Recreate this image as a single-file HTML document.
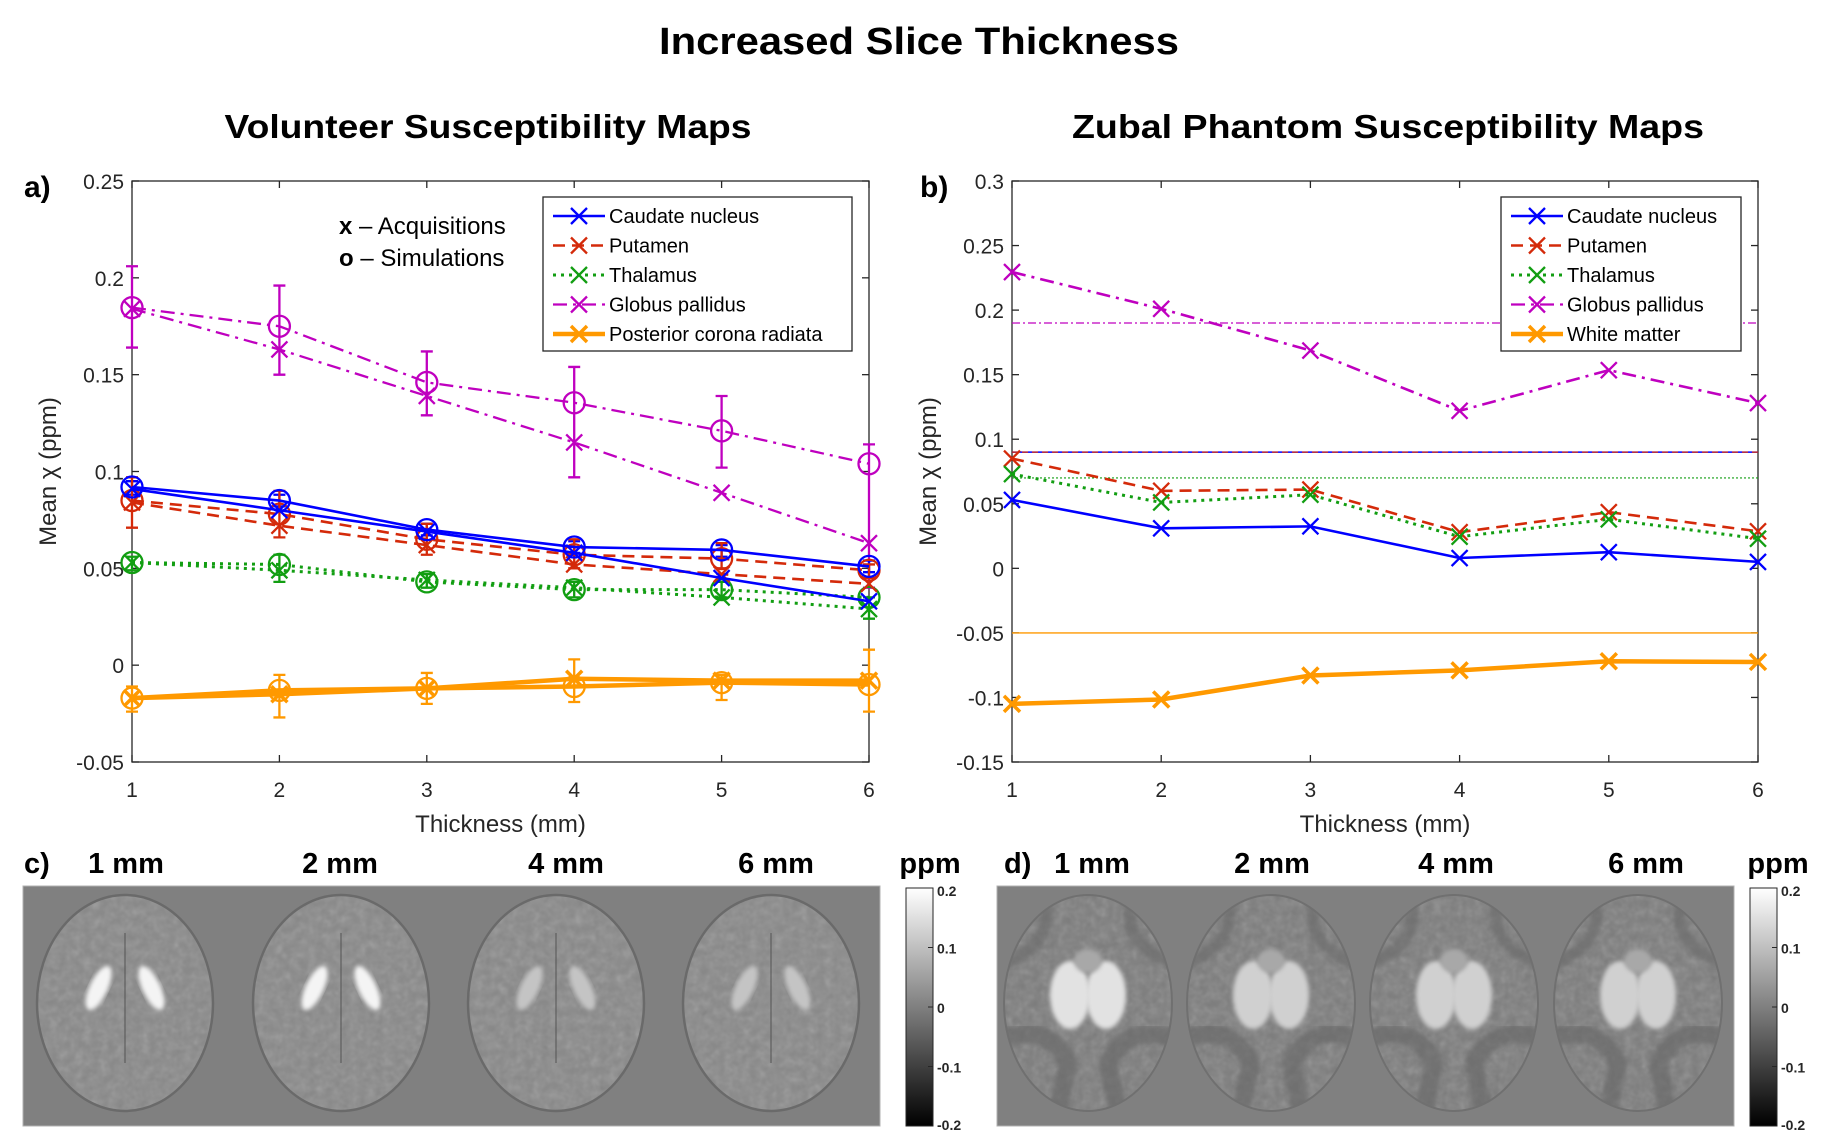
<!DOCTYPE html>
<html><head><meta charset="utf-8"><style>
html,body{margin:0;padding:0;background:#fff;}
svg{display:block;font-family:"Liberation Sans",Arial,sans-serif;}
</style></head><body>
<svg id="fig" width="1826" height="1148" viewBox="0 0 1826 1148" xmlns="http://www.w3.org/2000/svg">
<defs>
<linearGradient id="cbar" x1="0" y1="0" x2="0" y2="1"><stop offset="0" stop-color="#fff"/><stop offset="1" stop-color="#000"/></linearGradient>
<filter id="blur2"><feGaussianBlur stdDeviation="2"/></filter>
<filter id="blur4"><feGaussianBlur stdDeviation="4"/></filter>
<filter id="noise" x="0" y="0" width="100%" height="100%"><feTurbulence type="fractalNoise" baseFrequency="0.12" numOctaves="2" seed="3"/><feColorMatrix type="saturate" values="0"/><feComponentTransfer><feFuncA type="table" tableValues="0 0.3"/></feComponentTransfer></filter>
</defs>
<text x="919" y="54" font-size="38" font-weight="bold" text-anchor="middle" textLength="520" lengthAdjust="spacingAndGlyphs">Increased Slice Thickness</text>
<text x="488" y="138" font-size="33" font-weight="bold" text-anchor="middle" textLength="527" lengthAdjust="spacingAndGlyphs">Volunteer Susceptibility Maps</text>
<text x="1388" y="138" font-size="33" font-weight="bold" text-anchor="middle" textLength="632" lengthAdjust="spacingAndGlyphs">Zubal Phantom Susceptibility Maps</text>
<text x="24" y="197" font-size="30" font-weight="bold">a)</text>
<text x="920" y="197" font-size="30" font-weight="bold">b)</text>
<g id="pa"></g>
<g id="pb"></g>
<g id="imgs"></g>
</svg>
<script>
// ---------- data: panel a ----------
const thickness = [1,2,3,4,5,6];
const ticksA = [-0.05,0,0.05,0.1,0.15,0.2,0.25];
const tickLabelsA = ["-0.05","0","0.05","0.1","0.15","0.2","0.25"];
const ticksB = [-0.15,-0.1,-0.05,0,0.05,0.1,0.15,0.2,0.25,0.3];
const tickLabelsB = ["-0.15","-0.1","-0.05","0","0.05","0.1","0.15","0.2","0.25","0.3"];
const caudateAcq = [0.091,0.080,0.069,0.058,0.045,0.033];
const caudateSim = [0.092,0.085,0.070,0.061,0.0595,0.051];
const putamenAcq = [0.084,0.072,0.062,0.052,0.047,0.042];
const putamenSim = [0.085,0.078,0.065,0.057,0.055,0.049];
const thalamusAcq = [0.053,0.049,0.044,0.040,0.035,0.029];
const thalamusSim = [0.053,0.052,0.043,0.039,0.039,0.035];
const pallidusAcq = [0.184,0.163,0.139,0.115,0.089,0.063];
const pallidusSim = [0.1846,0.175,0.146,0.1355,0.121,0.104];
const coronaAcq = [-0.017,-0.015,-0.012,-0.007,-0.008,-0.008];
const coronaSim = [-0.017,-0.013,-0.012,-0.011,-0.009,-0.010];
const caudateErrLo = [0.088,0.082,0.067,0.058,0.056,0.048];
const caudateErrHi = [0.095,0.088,0.073,0.064,0.062,0.054];
const putamenErrLo = [0.071,0.066,0.057,0.050,0.050,0.045];
const putamenErrHi = [0.097,0.090,0.073,0.065,0.063,0.052];
const thalamusErrLo = [0.049,0.043,0.040,0.035,0.035,0.024];
const thalamusErrHi = [0.056,0.057,0.047,0.043,0.043,0.035];
const pallidusErrLo = [0.164,0.150,0.129,0.097,0.102,0.040];
const pallidusErrHi = [0.206,0.196,0.162,0.154,0.139,0.114];
const coronaErrLo = [-0.024,-0.027,-0.020,-0.019,-0.018,-0.024];
const coronaErrHi = [-0.011,-0.005,-0.004,0.003,-0.005,0.008];
// ---------- data: panel b ----------
const caudateB = [0.053,0.031,0.0325,0.008,0.0125,0.005];
const putamenB = [0.085,0.060,0.061,0.028,0.0435,0.0287];
const thalamusB = [0.073,0.051,0.057,0.0245,0.038,0.023];
const pallidusB = [0.2295,0.201,0.1687,0.122,0.1535,0.128];
const whiteMatterB = [-0.105,-0.1016,-0.083,-0.079,-0.072,-0.0725];
const refCaudate = 0.09, refPutamen = 0.09, refThalamus = 0.07, refPallidus = 0.19, refWhite = -0.05;

const NS="http://www.w3.org/2000/svg";
function mk(parent,tag,attrs,text){const e=document.createElementNS(NS,tag);for(const k in attrs)e.setAttribute(k,attrs[k]);if(text!==undefined)e.textContent=text;parent.appendChild(e);return e;}
const C={blue:"#0000ff",red:"#d42a0a",green:"#129e12",mag:"#bf00bf",orange:"#ff9900"};
const DASH={solid:"",dash:"12,7",dot:"3,5",dashdot:"14,6,3,6"};

function axes(g,L,R,T,B,ymin,ymax,ticks,labels,name){
  const xs=v=>L+(v-1)/5*(R-L), ys=v=>B-(v-ymin)/(ymax-ymin)*(B-T);
  mk(g,"rect",{x:L,y:T,width:R-L,height:B-T,fill:"#fff",stroke:"#262626","stroke-width":1.3});
  thickness.forEach(t=>{
    const x=xs(t);
    mk(g,"line",{x1:x,y1:B,x2:x,y2:B-7,stroke:"#262626","stroke-width":1.3});
    mk(g,"line",{x1:x,y1:T,x2:x,y2:T+7,stroke:"#262626","stroke-width":1.3});
    const tl=mk(g,"text",{x:x,y:B+35,"font-size":21,"text-anchor":"middle",fill:"#262626"},String(t));
    
    
  });
  ticks.forEach((v,i)=>{
    const y=ys(v);
    mk(g,"line",{x1:L,y1:y,x2:L+7,y2:y,stroke:"#262626","stroke-width":1.3});
    mk(g,"line",{x1:R,y1:y,x2:R-7,y2:y,stroke:"#262626","stroke-width":1.3});
    const tl=mk(g,"text",{x:L-8,y:y+8,"font-size":21,"text-anchor":"end",fill:"#262626"},labels[i]);
    
    
  });
  const xl=mk(g,"text",{x:(L+R)/2,y:B+70,"font-size":24,"text-anchor":"middle",fill:"#262626"},"Thickness (mm)");
  
  
  const yl=mk(g,"text",{x:0,y:0,"font-size":24,"text-anchor":"middle",fill:"#262626",transform:`translate(${L-76},${(T+B)/2}) rotate(-90)`},"Mean χ (ppm)");
  
  
  return {xs,ys};
}
function series(g,sc,vals,color,dash,w,marker,name){
  const sg=mk(g,"g",{});
  
  
  const pts=vals.map((v,i)=>sc.xs(thickness[i])+","+sc.ys(v)).join(" ");
  mk(sg,"polyline",{points:pts,fill:"none",stroke:color,"stroke-width":w,"stroke-dasharray":dash});
  vals.forEach((v,i)=>{
    const x=sc.xs(thickness[i]),y=sc.ys(v);
    if(marker==="x"){const s=8;mk(sg,"path",{d:`M${x-s},${y-s}L${x+s},${y+s}M${x-s},${y+s}L${x+s},${y-s}`,stroke:color,"stroke-width":w>3?3.5:2.3,fill:"none"});}
    else{mk(sg,"circle",{cx:x,cy:y,r:10.5,fill:"none",stroke:color,"stroke-width":2.3});}
  });
}
function errs(g,sc,lo,hi,color,name){
  const eg=mk(g,"g",{});
  
  
  lo.forEach((v,i)=>{
    const x=sc.xs(thickness[i]),y1=sc.ys(v),y2=sc.ys(hi[i]);
    mk(eg,"path",{d:`M${x},${y1}L${x},${y2}M${x-6},${y1}L${x+6},${y1}M${x-6},${y2}L${x+6},${y2}`,stroke:color,"stroke-width":2.3,fill:"none"});
  });
}
function legend(g,x,y,w,h,items,name){
  const lg=mk(g,"g",{});
  
  
  mk(lg,"rect",{x:x,y:y,width:w,height:h,fill:"#fff",stroke:"#262626","stroke-width":1.3});
  items.forEach((it,i)=>{
    const cy=y+19+i*29.5;
    const e=mk(lg,"g",{});
    
    
    mk(e,"line",{x1:x+10,y1:cy,x2:x+62,y2:cy,stroke:it[1],"stroke-width":it[3],"stroke-dasharray":it[2]});
    const cx=x+36,s=8;
    mk(e,"path",{d:`M${cx-s},${cy-s}L${cx+s},${cy+s}M${cx-s},${cy+s}L${cx+s},${cy-s}`,stroke:it[1],"stroke-width":it[3]>3?3.5:2.3});
    mk(e,"text",{x:x+66,y:cy+7,"font-size":20,fill:"#000"},it[0]);
  });
}
// panel a
const ga=document.getElementById("pa");
const sa=axes(ga,132,869,181,762,-0.05,0.25,ticksA,tickLabelsA,"a");
const ann1=mk(ga,"text",{x:339,y:234,"font-size":24},"");
ann1.innerHTML='<tspan font-weight="bold">x</tspan> – Acquisitions';


const ann2=mk(ga,"text",{x:339,y:266,"font-size":24},"");
ann2.innerHTML='<tspan font-weight="bold">o</tspan> – Simulations';


errs(ga,sa,pallidusErrLo,pallidusErrHi,C.mag,"pallidus-errorbars");
errs(ga,sa,caudateErrLo,caudateErrHi,C.blue,"caudate-errorbars");
errs(ga,sa,putamenErrLo,putamenErrHi,C.red,"putamen-errorbars");
errs(ga,sa,thalamusErrLo,thalamusErrHi,C.green,"thalamus-errorbars");
errs(ga,sa,coronaErrLo,coronaErrHi,C.orange,"corona-errorbars");
series(ga,sa,pallidusSim,C.mag,DASH.dashdot,2.3,"o","pallidus-sim");
series(ga,sa,pallidusAcq,C.mag,DASH.dashdot,2.3,"x","pallidus-acq");
series(ga,sa,thalamusSim,C.green,DASH.dot,3,"o","thalamus-sim");
series(ga,sa,thalamusAcq,C.green,DASH.dot,3,"x","thalamus-acq");
series(ga,sa,putamenSim,C.red,DASH.dash,2.6,"o","putamen-sim");
series(ga,sa,putamenAcq,C.red,DASH.dash,2.6,"x","putamen-acq");
series(ga,sa,caudateSim,C.blue,DASH.solid,2.6,"o","caudate-sim");
series(ga,sa,caudateAcq,C.blue,DASH.solid,2.6,"x","caudate-acq");
series(ga,sa,coronaSim,C.orange,DASH.solid,4.5,"o","corona-sim");
series(ga,sa,coronaAcq,C.orange,DASH.solid,4.5,"x","corona-acq");
legend(ga,543,197,309,154,[["Caudate nucleus",C.blue,"",2.6],["Putamen",C.red,"12,7",2.6],["Thalamus",C.green,"3,5",3],["Globus pallidus",C.mag,"14,6,3,6",2.3],["Posterior corona radiata",C.orange,"",4.5]],"legend-a");
// panel b
const gb=document.getElementById("pb");
const sb=axes(gb,1012,1758,181,762,-0.15,0.3,ticksB,tickLabelsB,"b");
function refline(v,color,dash,w,name){const y=sb.ys(v);const l=mk(gb,"line",{x1:1012,y1:y,x2:1758,y2:y,stroke:color,"stroke-width":w,"stroke-dasharray":dash});}
refline(refPallidus,C.mag,"8,3,2,3",1.2,"pallidus-reference");
refline(refCaudate,C.blue,"",1.4,"caudate-reference");
refline(refPutamen,C.red,"6,4",1.2,"putamen-reference");
refline(refThalamus,C.green,"2,2",1.2,"thalamus-reference");
refline(refWhite,C.orange,"",1.4,"white-matter-reference");
series(gb,sb,pallidusB,C.mag,DASH.dashdot,2.6,"x","pallidus-b");
series(gb,sb,putamenB,C.red,DASH.dash,2.6,"x","putamen-b");
series(gb,sb,thalamusB,C.green,DASH.dot,3,"x","thalamus-b");
series(gb,sb,caudateB,C.blue,DASH.solid,2.6,"x","caudate-b");
series(gb,sb,whiteMatterB,C.orange,DASH.solid,4.5,"x","white-matter-b");
legend(gb,1501,197,240,154,[["Caudate nucleus",C.blue,"",2.6],["Putamen",C.red,"12,7",2.6],["Thalamus",C.green,"3,5",3],["Globus pallidus",C.mag,"14,6,3,6",2.3],["White matter",C.orange,"",4.5]],"legend-b");
// image panels
const gi=document.getElementById("imgs");
const defs=document.querySelector("defs");
function lab(x,y,t,anchor,name){const e=mk(gi,"text",{x:x,y:y,"font-size":29,"font-weight":"bold","text-anchor":anchor||"middle"},t);}
lab(24,873,"c)","start","panel-c-label");
[[126,"1 mm"],[340,"2 mm"],[566,"4 mm"],[776,"6 mm"]].forEach(a=>lab(a[0],873,a[1],"middle","c-thickness-label"));
lab(930,873,"ppm","middle","c-colorbar-unit");
lab(1004,873,"d)","start","panel-d-label");
[[1092,"1 mm"],[1272,"2 mm"],[1456,"4 mm"],[1646,"6 mm"]].forEach(a=>lab(a[0],873,a[1],"middle","d-thickness-label"));
lab(1778,873,"ppm","middle","d-colorbar-unit");
let clipId=0;
function brainPanel(x0,x1,centers,rx,phantom,name){
  const g=mk(gi,"g",{});
  
  
  mk(g,"rect",{x:x0,y:886,width:x1-x0,height:240,fill:"#808080",stroke:"#b0b0b0","stroke-width":1});
  centers.forEach((cx,k)=>{
    const cy=1003,ry=108;
    const id="bc"+(clipId++);
    const cp=mk(defs,"clipPath",{id:id});
    mk(cp,"ellipse",{cx:cx,cy:cy,rx:rx,ry:ry});
    const b=mk(g,"g",{"clip-path":`url(#${id})`});
    mk(b,"ellipse",{cx:cx,cy:cy,rx:rx,ry:ry,fill:phantom?"#7c7c7c":"#888"});
    mk(b,"rect",{x:cx-rx,y:cy-ry,width:2*rx,height:2*ry,fill:"#fff",filter:"url(#noise)"});
    if(phantom){
      const br=k===0?"#e2e2e2":"#d0d0d0";
      mk(b,"ellipse",{cx:cx-18,cy:cy-8,rx:20,ry:34,fill:br,filter:"url(#blur2)"});
      mk(b,"ellipse",{cx:cx+18,cy:cy-8,rx:20,ry:34,fill:br,filter:"url(#blur2)"});
      mk(b,"ellipse",{cx:cx,cy:cy-42,rx:14,ry:12,fill:"#a8a8a8",filter:"url(#blur2)"});
      mk(b,"path",{d:`M${cx-rx},${cy+35} Q${cx-40},${cy+20} ${cx-20},${cy+60} L${cx-30},${cy+ry} M${cx+rx},${cy+35} Q${cx+40},${cy+20} ${cx+20},${cy+60} L${cx+30},${cy+ry}`,stroke:"#666",fill:"none","stroke-width":18,opacity:0.6,filter:"url(#blur2)"});
      mk(b,"path",{d:`M${cx-rx},${cy-40} Q${cx-30},${cy-60} ${cx-45},${cy-ry} M${cx+rx},${cy-40} Q${cx+30},${cy-60} ${cx+45},${cy-ry}`,stroke:"#6a6a6a",fill:"none","stroke-width":12,opacity:0.6,filter:"url(#blur2)"});
    }else{
      const bright=k<2?"#f4f4f4":"#c4c4c4";
      mk(b,"ellipse",{cx:cx-rx*0.3,cy:cy-15,rx:9,ry:24,fill:bright,transform:`rotate(25 ${cx-rx*0.3} ${cy-15})`,filter:"url(#blur2)"});
      mk(b,"ellipse",{cx:cx+rx*0.3,cy:cy-15,rx:9,ry:24,fill:bright,transform:`rotate(-25 ${cx+rx*0.3} ${cy-15})`,filter:"url(#blur2)"});
      mk(b,"line",{x1:cx,y1:cy-70,x2:cx,y2:cy+60,stroke:"#555","stroke-width":2,opacity:0.5});
    }
    mk(g,"ellipse",{cx:cx,cy:cy,rx:rx,ry:ry,fill:"none",stroke:phantom?"#707070":"#6a6a6a","stroke-width":phantom?2:2.5});
  });
}
brainPanel(23,880,[125,341,556,771],88,false,"volunteer-maps");
brainPanel(997,1734,[1088,1271,1454,1638],84,true,"phantom-maps");
function cbar(x,name){
  const g=mk(gi,"g",{});
  
  
  mk(g,"rect",{x:x,y:888,width:27,height:238,fill:"url(#cbar)",stroke:"#262626","stroke-width":1});
  ["0.2","0.1","0","-0.1","-0.2"].forEach((t,i)=>{
    const y=888+i*238/4;
    mk(g,"line",{x1:x+27,y1:y,x2:x+22,y2:y,stroke:"#262626"});
    mk(g,"text",{x:x+31,y:y+(i===0?8:i===4?4:6),"font-size":14,"font-weight":"bold",fill:"#262626"},t);
  });
}
cbar(906,"colorbar-c");
cbar(1750,"colorbar-d");
</script>
</body></html>
